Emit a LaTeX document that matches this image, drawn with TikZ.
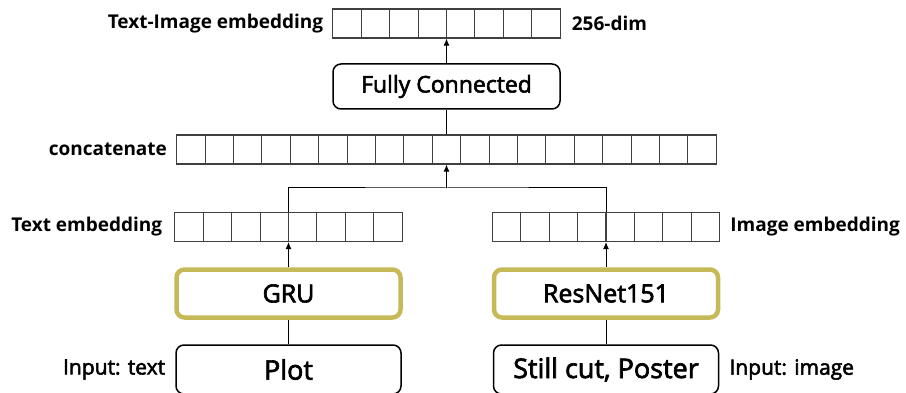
\documentclass[tikz,border=0pt]{standalone}
\usepackage{fontspec}
\setmainfont{Open Sans}[FakeBold=2.5]
\newfontfamily\lblfont{Open Sans Bold}
\usepackage{tikz}
\usetikzlibrary{shapes,arrows.meta,positioning}
\definecolor{netolive}{RGB}{198,186,88}

\begin{document}
\begin{tikzpicture}[
    x=1pt, y=-1pt,
    >={Latex[length=7pt,width=6pt]},
    vec/.style={rectangle, draw=black!75, line width=1.1pt, inner sep=0pt,
                minimum width=#1*28.4pt, minimum height=29pt,
                path picture={\pgfmathtruncatemacro\lastcell{#1-1}
                  \foreach \k in {1,...,\lastcell}
                    \draw[black!75, line width=1.1pt]
                      ([xshift=\k*28.4pt]path picture bounding box.north west) --
                      ([xshift=\k*28.4pt]path picture bounding box.south west);}},
    lbl/.style={inner sep=0pt, font=\lblfont\fontsize{19}{21}\selectfont},
    inlbl/.style={inner sep=0pt, font=\fontsize{21}{23}\selectfont},
    box/.style={rectangle, draw, line width=1.5pt, rounded corners=8pt,
                minimum width=227pt, minimum height=45pt, align=center},
    netbox/.style={rectangle, draw=netolive, line width=4.5pt, rounded corners=8pt,
                   minimum width=224pt, minimum height=48pt, font=\fontsize{25}{27}\selectfont},
    inbox/.style={box, minimum width=225pt, minimum height=49pt, font=\fontsize{27}{29}\selectfont},
    arrow/.style={->, line width=1pt},
    link/.style={line width=1pt}
]
\useasboundingbox (0,0) rectangle (906,393);
\clip (0,0) rectangle (906,393);

% output side
\node[vec=8] (topemb) at (446.5,23.5) {};
\node[lbl, left=9pt of topemb] (topemblbl) {Text-Image embedding};
\node[lbl, right=11pt of topemb] (dimlbl) {256-dim};
\node[box, font=\fontsize{23}{25}\selectfont] (fc) at (446.5,86.5) {Fully Connected};
\node[vec=19] (concat) at (446.5,149.5) {};
\node[lbl, left=9pt of concat] (concatlbl) {concatenate};
\coordinate (join) at (446.5,188);

% two branches
\node[vec=8] (txtemb) at (288.5,227) {};
\node[vec=8] (imgemb) at (606,227) {};
\node[lbl, left=12pt of txtemb] (txtemblbl) {Text embedding};
\node[lbl, right=10pt of imgemb] (imgemblbl) {Image embedding};
\node[netbox] (gru) at (288.5,293.5) {GRU};
\node[netbox] (resnet) at (606,293.5) {ResNet151};
\node[inbox] (plot) at (288.5,369.5) {Plot};
\node[inbox] (still) at (606,369.5) {Still cut, Poster};
\node[inlbl, left=10pt of plot] (plotlbl) {Input: text};
\node[inlbl, right=10pt of still] (stilllbl) {Input: image};

\draw[arrow] (fc) -- (topemb);
\draw[link] (concat) -- (fc);
\draw[link] (txtemb.north) |- (join) -| (imgemb.north);
\draw[arrow] (join) -- (concat);
\draw[arrow] (gru) -- (txtemb);
\draw[arrow] (resnet) -- (imgemb);
\draw[link] (plot) -- (gru);
\draw[link] (still) -- (resnet);
\end{tikzpicture}
\end{document}
